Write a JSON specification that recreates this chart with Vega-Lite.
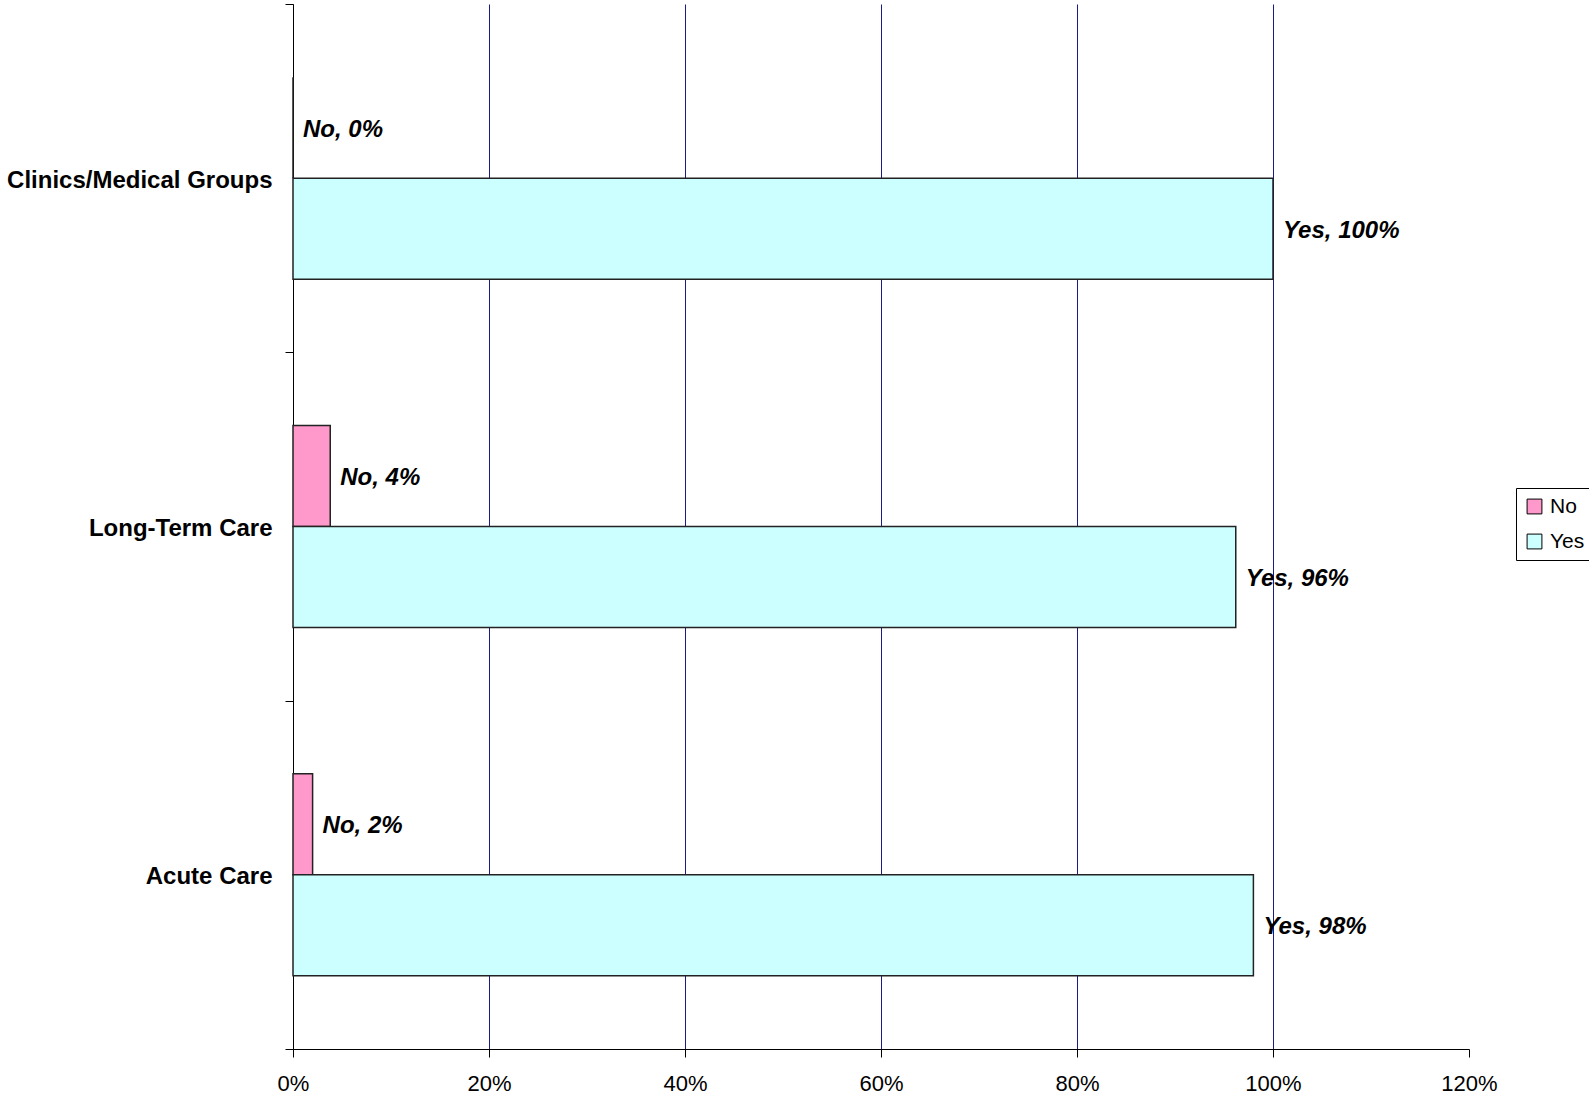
{
  "$schema": "https://vega.github.io/schema/vega-lite/v6.json",
  "autosize": {"type": "none"},
  "padding": {"left": 293, "top": 4, "right": 120, "bottom": 48},
  "width": 1176,
  "height": 1045,
  "background": "white",
  "config": {
    "view": {"stroke": null},
    "font": "Liberation Sans"
  },
  "data": {
    "values": [
      {"setting": "Clinics/Medical Groups", "answer": "No", "share": 0.0},
      {"setting": "Clinics/Medical Groups", "answer": "Yes", "share": 1.0},
      {"setting": "Long-Term Care", "answer": "No", "share": 0.038},
      {"setting": "Long-Term Care", "answer": "Yes", "share": 0.962},
      {"setting": "Acute Care", "answer": "No", "share": 0.02},
      {"setting": "Acute Care", "answer": "Yes", "share": 0.98}
    ]
  },
  "transform": [
    {"calculate": "datum.answer + ', ' + format(datum.share, '.0%')", "as": "tag"}
  ],
  "encoding": {
    "y": {
      "field": "setting",
      "type": "nominal",
      "sort": ["Clinics/Medical Groups", "Long-Term Care", "Acute Care"],
      "scale": {"paddingInner": 0, "paddingOuter": 0},
      "axis": {
        "title": null,
        "tickBand": "extent",
        "tickSize": 8,
        "tickColor": "black",
        "domainColor": "black",
        "labelFontSize": 24,
        "labelFontWeight": "bold",
        "labelColor": "black",
        "labelPadding": 13,
        "labelOffset": 2,
        "labelLimit": 500,
        "grid": false
      }
    },
    "yOffset": {
      "field": "answer",
      "type": "nominal",
      "sort": ["No", "Yes"],
      "scale": {"paddingInner": 0, "paddingOuter": 0.724}
    },
    "x": {
      "field": "share",
      "type": "quantitative",
      "scale": {"domain": [0, 1.2], "nice": false},
      "axis": {
        "title": null,
        "values": [0, 0.2, 0.4, 0.6, 0.8, 1.0, 1.2],
        "format": ".0%",
        "tickSize": 8,
        "tickColor": "black",
        "domainColor": "black",
        "labelFontSize": 22,
        "labelColor": "black",
        "labelPadding": 16,
        "labelFlush": false,
        "labelOverlap": false,
        "grid": true,
        "gridColor": {"condition": {"test": "datum.value > 1.1", "value": "transparent"}, "value": "#1a1a8c"},
        "gridWidth": 1
      }
    }
  },
  "layer": [
    {
      "mark": {"type": "bar", "stroke": "#222222", "strokeWidth": 1.5},
      "encoding": {
        "color": {
          "field": "answer",
          "type": "nominal",
          "sort": ["No", "Yes"],
          "scale": {"domain": ["No", "Yes"], "range": ["#FF99CC", "#CCFFFF"]},
          "legend": {
            "title": null,
            "orient": "none",
            "legendX": 1223,
            "legendY": 484,
            "strokeColor": "black",
            "padding": 8,
            "symbolType": "square",
            "symbolSize": 220,
            "symbolStrokeColor": "black",
            "symbolStrokeWidth": 1,
            "symbolOpacity": 1,
            "labelFontSize": 21,
            "labelColor": "black",
            "labelOffset": 5,
            "rowPadding": 13
          }
        }
      }
    },
    {
      "mark": {
        "type": "text",
        "align": "left",
        "baseline": "middle",
        "dx": 10,
        "dy": 2,
        "fontSize": 24,
        "fontWeight": "bold",
        "fontStyle": "italic",
        "color": "black"
      },
      "encoding": {
        "text": {"field": "tag", "type": "nominal"}
      }
    }
  ]
}
